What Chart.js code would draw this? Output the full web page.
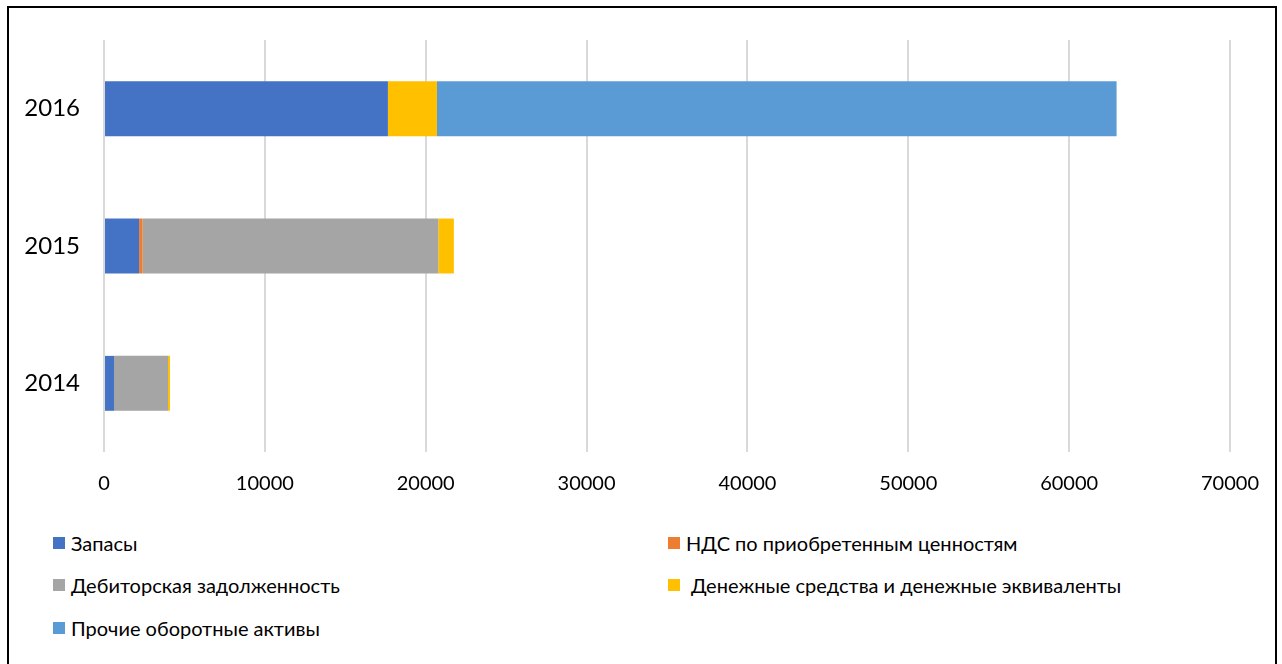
<!DOCTYPE html>
<html>
<head>
<meta charset="utf-8">
<script src="https://cdn.jsdelivr.net/npm/chart.js@4/dist/chart.umd.min.js"></script>
<style>
    body { margin: 0; background: #fff; font-family: Lato, "Open Sans", sans-serif; }
    #frame { position: absolute; left: 7px; top: 6px; width: 1266px; height: 700px; border: 2px solid #000; }
    #wrap { position: absolute; left: 8px; top: 8px; width: 1266px; height: 500px; }
    .leg { position: absolute; font-size: 20px; color: #000; line-height: 24px; white-space: pre; }
    .leg i { position: absolute; top: 6px; width: 12px; height: 12px; }
</style>
</head>
<body>
<div id="frame"></div>
<div id="wrap"><canvas id="chart"></canvas></div>
<div id="legend"></div>
<script>
// Оборотные активы по годам
const years = ['2016', '2015', '2014'];
const seriesNames = [
    'Запасы',
    'НДС по приобретенным ценностям',
    'Дебиторская задолженность',
    'Денежные средства и денежные эквиваленты',
    'Прочие оборотные активы'
];
const zapasy = [17650, 2180, 620];
const nds = [0, 220, 0];
const debitor = [0, 18380, 3360];
const dengi = [3050, 970, 120];
const prochie = [42250, 0, 0];
const xTicks = [0, 10000, 20000, 30000, 40000, 50000, 60000, 70000];

const colors = ['#4472C4', '#ED7D31', '#A5A5A5', '#FFC000', '#5B9BD5'];
const values = [zapasy, nds, debitor, dengi, prochie];

// legend placement: [left, top] of each entry, leading space for the cash one
const legendPos = [[53, 531], [668, 531], [53, 573], [668, 573], [53, 616]];
const legendEl = document.getElementById('legend');
seriesNames.forEach((name, i) => {
    const d = document.createElement('div');
    d.className = 'leg';
    d.style.left = legendPos[i][0] + 'px';
    d.style.top = legendPos[i][1] + 'px';
    const pad = i === 3 ? 23 : 18;
    d.innerHTML = `<i style="left:0;background:${colors[i]}"></i><span style="margin-left:${pad}px">${name}</span>`;
    legendEl.appendChild(d);
});

new Chart(document.getElementById('chart'), {
    type: 'bar',
    data: {
        labels: years,
        datasets: seriesNames.map((name, i) => ({
            label: name,
            data: values[i],
            backgroundColor: colors[i],
            barPercentage: 0.4,
            categoryPercentage: 1
        }))
    },
    options: {
        indexAxis: 'y',
        responsive: true,
        maintainAspectRatio: false,
        animation: false,
        layout: { padding: { top: 32, right: 44, left: 0, bottom: 0 } },
        plugins: { legend: { display: false }, tooltip: { enabled: false } },
        scales: {
            x: {
                stacked: true,
                min: 0,
                max: 70000,
                afterBuildTicks: s => { s.ticks = xTicks.map(v => ({ value: v })); },
                afterFit: s => { s.height = 56; s.paddingLeft = 0; s.paddingRight = 0; },
                grid: { color: '#D9D9D9', lineWidth: 2, drawTicks: false },
                border: { display: false },
                ticks: {
                    color: '#000', padding: 20,
                    font: { family: 'Lato', size: 20 },
                    callback: v => String(v)
                }
            },
            y: {
                stacked: true,
                afterFit: s => { s.width = 96; s.paddingTop = 0; s.paddingBottom = 0; },
                grid: { display: false, drawTicks: false },
                border: { display: false },
                ticks: { color: '#000', padding: 24, font: { family: 'Lato', size: 24 } }
            }
        }
    }
});
</script>
</body>
</html>
